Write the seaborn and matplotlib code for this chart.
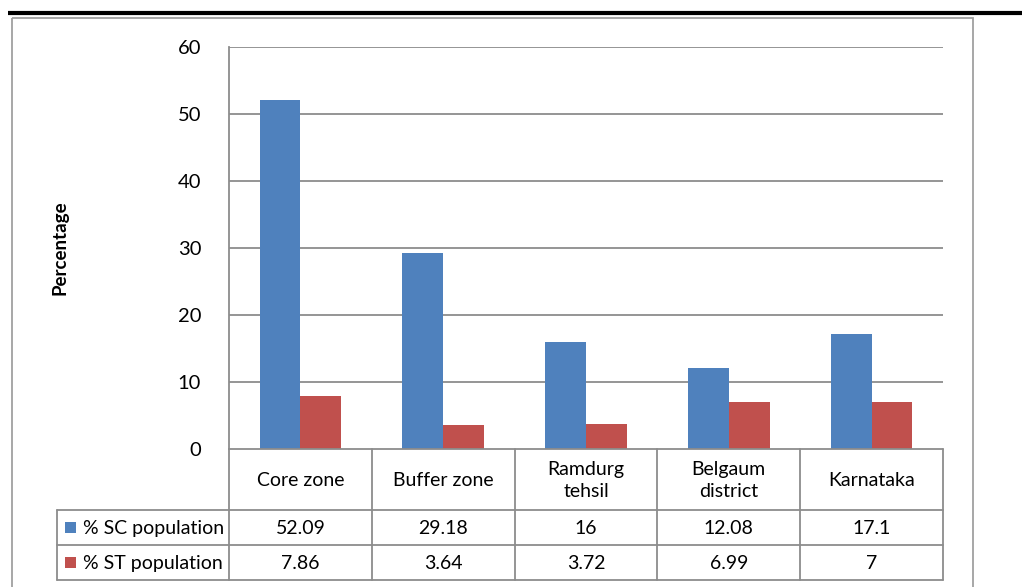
import matplotlib
matplotlib.use("Agg")
import matplotlib.pyplot as plt
import seaborn as sns
import pandas as pd
from matplotlib.patches import Rectangle
from matplotlib.lines import Line2D

# ---- data ----
categories = ["Core zone", "Buffer zone", "Ramdurg\ntehsil", "Belgaum\ndistrict", "Karnataka"]
series_names = ["% SC population", "% ST population"]
sc_values = [52.09, 29.18, 16, 12.08, 17.1]
st_values = [7.86, 3.64, 3.72, 6.99, 7]
y_ticks = [0, 10, 20, 30, 40, 50, 60]
y_label = "Percentage"

colors = ["#4F81BD", "#C0504D"]
grid_gray = "#8c8c8c"
fs = 14

sns.set_theme(style="white")
plt.rcParams["font.family"] = ["Lato", "DejaVu Sans"]

W, H, DPI = 1022, 587, 100
fig = plt.figure(figsize=(W / DPI, H / DPI), dpi=DPI)

# plot area in pixel coordinates (from top-left)
px_left, px_right, px_top, px_bottom = 229, 943, 47, 449
ax = fig.add_axes([px_left / W, 1 - px_bottom / H,
                   (px_right - px_left) / W, (px_bottom - px_top) / H])

df = pd.DataFrame({
    "category": categories * 2,
    "series": [series_names[0]] * len(categories) + [series_names[1]] * len(categories),
    "value": sc_values + st_values,
})

sns.barplot(data=df, x="category", y="value", hue="series", order=categories,
            hue_order=series_names, palette=colors, saturation=1, width=0.572,
            gap=0, linewidth=0, legend=False, ax=ax, zorder=3)

ax.set_xlim(-0.5, len(categories) - 0.5)
ax.set_ylim(y_ticks[0], y_ticks[-1])
ax.set_yticks(y_ticks)
ax.set_yticklabels([str(t) for t in y_ticks], fontsize=14.5, color="black")
ax.tick_params(axis="y", length=0, pad=20)
ax.set_xticks([])
ax.set_xlabel("")
ax.set_ylabel("")
for t in y_ticks[1:]:
    ax.axhline(t, color=grid_gray, lw=1.3, zorder=1)
for side in ["top", "right", "bottom"]:
    ax.spines[side].set_visible(False)
ax.spines["left"].set_color(grid_gray)
ax.spines["left"].set_linewidth(1.3)

fig.text(60 / W, 1 - (px_top + px_bottom) / 2 / H, y_label, rotation=90,
         ha="center", va="center", fontsize=13.5, fontweight="bold", color="black")

# ---- overlay in pixel coordinates for the frame and data table ----
ov = fig.add_axes([0, 0, 1, 1], zorder=5)
ov.set_xlim(0, W)
ov.set_ylim(H, 0)
ov.axis("off")
ov.patch.set_alpha(0)

# page rule and chart frame
ov.add_line(Line2D([8, W], [12.8, 12.8], color="black", lw=3.0, solid_capstyle="butt"))
ov.add_patch(Rectangle((12.3, 17.5), 972.5 - 12.3, 600, fill=False,
                       edgecolor="#a0a0a0", lw=1.3))

# table geometry
ncat = len(categories)
cat_w = (px_right - px_left) / ncat
col_edges = [px_left + i * cat_w for i in range(ncat + 1)]
legend_left = 57
row_top, row_cat, row_sc, row_st = 449, 510, 545, 580
lw_tab = 1.3

def hline(y, x0, x1):
    ov.add_line(Line2D([x0, x1], [y, y], color=grid_gray, lw=lw_tab))

def vline(x, y0, y1):
    ov.add_line(Line2D([x, x], [y0, y1], color=grid_gray, lw=lw_tab))

hline(row_top, px_left, px_right)
hline(row_cat, legend_left, px_right)
hline(row_sc, legend_left, px_right)
hline(row_st, legend_left, px_right)
vline(legend_left, row_cat, row_st)
for x in col_edges:
    vline(x, row_top, row_st)

for i, cat in enumerate(categories):
    xc = (col_edges[i] + col_edges[i + 1]) / 2
    ov.text(xc, (row_top + row_cat) / 2 + 1, cat, ha="center", va="center",
            fontsize=fs, color="black", linespacing=1.4)
    ov.text(xc, (row_cat + row_sc) / 2 + 1, f"{sc_values[i]:g}", ha="center",
            va="center", fontsize=fs, color="black")
    ov.text(xc, (row_sc + row_st) / 2 + 1, f"{st_values[i]:g}", ha="center",
            va="center", fontsize=fs, color="black")

for (y0, y1), name, c in zip([(row_cat, row_sc), (row_sc, row_st)], series_names, colors):
    ym = (y0 + y1) / 2
    ov.add_patch(Rectangle((65, ym - 5.5), 11, 11, facecolor=c, edgecolor="none"))
    ov.text(83, ym + 1, name, ha="left", va="center", fontsize=fs, color="black")

fig.savefig("out.png", dpi=DPI)
